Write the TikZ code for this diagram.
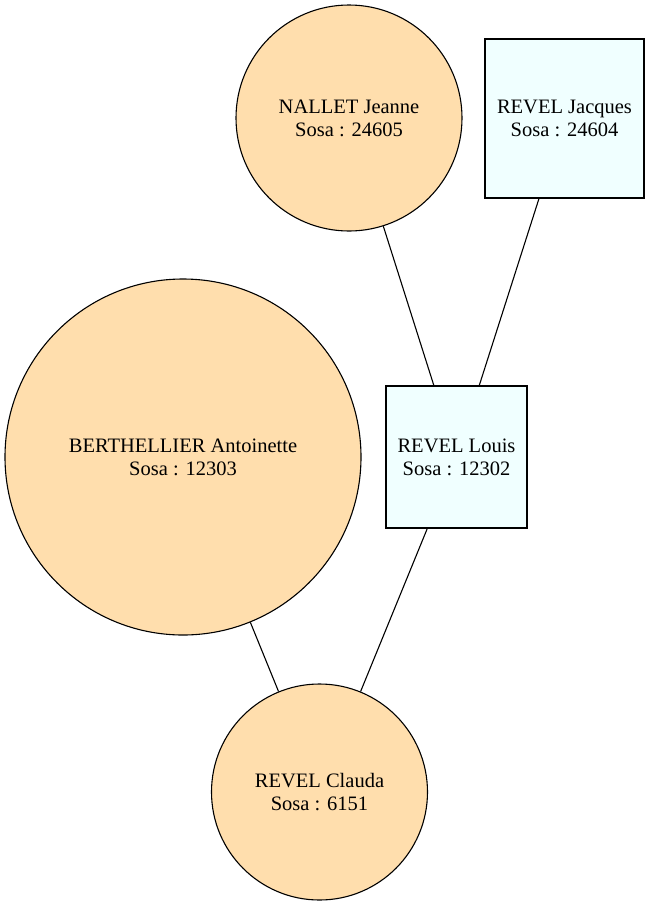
\documentclass[tikz,border=0pt]{standalone}
\usepackage{fontspec}
\setmainfont{Liberation Serif}
\usepackage{tikz}
\definecolor{femme}{HTML}{FFDEAD}
\definecolor{homme}{HTML}{F0FFFF}
\tikzset{
    every node/.style={align=center, font=\fontsize{20.5}{23}\selectfont, inner sep=0pt},
    woman/.style={draw, circle, fill=femme, line width=1.1pt},
    man/.style={draw, rectangle, fill=homme, line width=1.1pt},
    lien/.style={line width=1.1pt}
}

\begin{document}
\begin{tikzpicture}[x=1pt, y=-1pt]
    % page
    \useasboundingbox (0,0) rectangle (650,906);
    % ancestors
    \node[woman, minimum size=226pt] (jeanne) at (349,118) {NALLET Jeanne\\Sosa : 24605};
    \node[man, minimum width=159pt, minimum height=159pt] (jacques) at (564.5,118.5) {REVEL Jacques\\Sosa : 24604};
    \node[woman, minimum size=356pt] (antoinette) at (183,457) {BERTHELLIER Antoinette\\Sosa : 12303};
    \node[man, minimum width=141pt, minimum height=142pt] (louis) at (456.5,457) {REVEL Louis\\Sosa : 12302};
    \node[woman, minimum size=216pt] (clauda) at (319.5,792) {REVEL Clauda\\Sosa : 6151};
    % links
    \draw[lien] (jeanne) -- (louis);
    \draw[lien] (jacques) -- (louis);
    \draw[lien] (louis) -- (clauda);
    \draw[lien] (antoinette) -- (clauda);
\end{tikzpicture}
\end{document}
